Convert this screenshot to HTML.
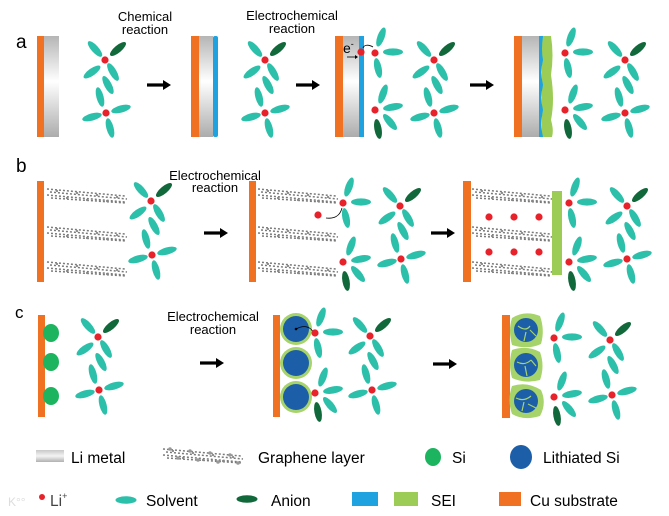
<!DOCTYPE html>
<html><head><meta charset="utf-8"><style>
html,body{margin:0;padding:0;background:#fff;}
svg{display:block;font-family:"Liberation Sans",Arial,sans-serif;}
</style></head><body>
<svg width="669" height="516" viewBox="0 0 669 516" xmlns="http://www.w3.org/2000/svg">
<defs>
<linearGradient id="li" x1="0" y1="0" x2="0" y2="1">
<stop offset="0" stop-color="#b5b5b5"/><stop offset="0.45" stop-color="#ffffff"/><stop offset="1" stop-color="#acacac"/>
</linearGradient>
<linearGradient id="lil" x1="0" y1="0" x2="0" y2="1">
<stop offset="0" stop-color="#c8c8c8"/><stop offset="0.5" stop-color="#f4f4f4"/><stop offset="1" stop-color="#b0b0b0"/>
</linearGradient>
<g id="A" fill="#2cbfa9">
<ellipse rx="10" ry="3.6" transform="translate(-10,-11) rotate(48)"/>
<ellipse rx="10" ry="3.6" fill="#11683a" transform="translate(13,-11) rotate(-40)"/>
<ellipse rx="10" ry="3.6" transform="translate(-13,12) rotate(-35)"/>
<ellipse rx="10" ry="3.6" transform="translate(8,12) rotate(60)"/>
<ellipse rx="10" ry="3.6" transform="translate(3,25) rotate(62)"/>
<circle r="3.6" fill="#e8222a"/>
</g>
<g id="B" fill="#2cbfa9">
<ellipse rx="10" ry="3.6" transform="translate(-6,-16) rotate(75)"/>
<ellipse rx="10" ry="3.6" transform="translate(15,-4) rotate(-15)"/>
<ellipse rx="10" ry="3.6" transform="translate(-14,4) rotate(-15)"/>
<ellipse rx="10" ry="3.6" transform="translate(4,15) rotate(75)"/>
<circle r="3.6" fill="#e8222a"/>
</g>
<g id="C" fill="#2cbfa9">
<ellipse rx="10" ry="3.6" transform="translate(6,-16) rotate(-70)"/>
<ellipse rx="10" ry="3.6" transform="translate(18,-1)"/>
<ellipse rx="10" ry="3.6" transform="translate(3,15) rotate(78)"/>
<circle r="3.6" fill="#e8222a"/>
</g>
<g id="D" fill="#2cbfa9">
<ellipse rx="10" ry="3.6" transform="translate(8,-16) rotate(-70)"/>
<ellipse rx="10" ry="3.6" transform="translate(18,-3) rotate(-10)"/>
<ellipse rx="10" ry="3.6" transform="translate(15,12) rotate(50)"/>
<ellipse rx="10" ry="3.6" fill="#11683a" transform="translate(3,19) rotate(80)"/>
<circle r="3.6" fill="#e8222a"/>
</g>
<g id="G">
<g stroke="#7a7a7a" stroke-width="1.5" fill="none" stroke-dasharray="2 2">
<path d="M0,0 L78,7"/><path d="M3,3 L80,10"/><path d="M0,6 L78,13"/><path d="M4,9 L79,14"/>
</g>
<g fill="#888"><circle cx="10" cy="2" r="1.1"/><circle cx="30" cy="4" r="1.1"/><circle cx="50" cy="6" r="1.1"/><circle cx="70" cy="8" r="1.1"/>
<circle cx="20" cy="9" r="1.1"/><circle cx="40" cy="11" r="1.1"/><circle cx="60" cy="12" r="1.1"/></g>
</g>
<g id="AR"><rect x="0" y="-1.6" width="18" height="3.2" fill="#000"/><path d="M16,-5 L24,0 L16,5 Z" fill="#000"/></g>
</defs>

<text x="16" y="48" font-size="19">a</text>
<text x="145" y="21" font-size="13" text-anchor="middle">Chemical</text>
<text x="145" y="34" font-size="13" text-anchor="middle">reaction</text>
<text x="292" y="20" font-size="13" text-anchor="middle">Electrochemical</text>
<text x="292" y="33" font-size="13" text-anchor="middle">reaction</text>

<rect x="37" y="36" width="7" height="101" fill="#f07122"/>
<rect x="44" y="36" width="15" height="101" fill="url(#li)"/>
<use href="#A" x="105" y="60"/><use href="#B" x="106" y="113"/>
<use href="#AR" x="147" y="85"/>

<rect x="191" y="36" width="8" height="101" fill="#f07122"/>
<rect x="199" y="36" width="14" height="101" fill="url(#li)"/>
<rect x="213" y="36" width="5" height="101" rx="2" fill="#1ea2e0"/>
<use href="#A" x="265" y="60"/><use href="#B" x="265" y="113"/>
<use href="#AR" x="296" y="85"/>

<rect x="335" y="36" width="8" height="101" fill="#f07122"/>
<rect x="343" y="36" width="16" height="101" fill="url(#li)"/>
<rect x="359" y="36" width="5" height="101" fill="#1ea2e0"/>
<text x="343" y="53" font-size="14">e<tspan font-size="9" dy="-6">-</tspan></text>
<path d="M347,57 L357,57" stroke="#000" stroke-width="0.8"/><path d="M355,55 L358,57 L355,59Z"/>
<circle cx="361" cy="52" r="3.6" fill="#e8222a"/>
<path d="M373,47 C368,44 364,45 363,48" stroke="#000" stroke-width="0.8" fill="none"/>
<use href="#C" x="375" y="53"/><use href="#A" x="434" y="60"/>
<use href="#D" x="375" y="110"/><use href="#B" x="434" y="113"/>
<use href="#AR" x="470" y="85"/>

<rect x="514" y="36" width="8" height="101" fill="#f07122"/>
<rect x="522" y="36" width="17" height="101" fill="url(#li)"/>
<path d="M542,36 L551,36 Q554,55 551,75 Q555,100 551,120 Q554,130 552,137 L542,137Z" fill="#9ccc55"/>
<path d="M539,36 L543,36 Q541,50 543,60 Q540,72 543,85 Q540,98 543,110 Q540,125 543,137 L539,137Z" fill="#1ea2e0"/>
<use href="#C" x="565" y="53"/><use href="#A" x="625" y="60"/>
<use href="#D" x="565" y="110"/><use href="#B" x="625" y="113"/>

<text x="16" y="172" font-size="19">b</text>
<text x="215" y="180" font-size="13" text-anchor="middle">Electrochemical</text>
<text x="215" y="192" font-size="13" text-anchor="middle">reaction</text>
<rect x="37" y="181" width="7" height="101" fill="#f07122"/>
<use href="#G" x="47" y="189"/><use href="#G" x="47" y="227"/><use href="#G" x="47" y="262"/>
<use href="#A" x="151" y="201"/><use href="#B" x="152" y="255"/>
<use href="#AR" x="204" y="233"/>

<rect x="249" y="181" width="7" height="101" fill="#f07122"/>
<use href="#G" x="258" y="189"/><use href="#G" x="258" y="227"/><use href="#G" x="258" y="262"/>
<circle cx="318" cy="215" r="3.6" fill="#e8222a"/>
<path d="M342,208 C340,216 334,219 326,218" stroke="#000" stroke-width="0.8" fill="none"/>
<use href="#C" x="343" y="203"/><use href="#A" x="400" y="206"/>
<use href="#D" x="343" y="262"/><use href="#B" x="401" y="259"/>
<use href="#AR" x="431" y="233"/>

<rect x="463" y="181" width="8" height="101" fill="#f07122"/>
<use href="#G" x="472" y="189"/><use href="#G" x="472" y="227"/><use href="#G" x="472" y="262"/>
<g fill="#e8222a"><circle cx="489" cy="217" r="3.6"/><circle cx="514" cy="217" r="3.6"/><circle cx="539" cy="217" r="3.6"/>
<circle cx="489" cy="252" r="3.6"/><circle cx="514" cy="252" r="3.6"/><circle cx="539" cy="252" r="3.6"/></g>
<rect x="552" y="191" width="10" height="84" fill="#9ccc55"/>
<use href="#C" x="569" y="203"/><use href="#A" x="627" y="206"/>
<use href="#D" x="569" y="262"/><use href="#B" x="627" y="259"/>

<text x="15" y="318" font-size="17">c</text>
<text x="213" y="321" font-size="13" text-anchor="middle">Electrochemical</text>
<text x="213" y="334" font-size="13" text-anchor="middle">reaction</text>
<rect x="38" y="315" width="7" height="102" fill="#f07122"/>
<g fill="#1db45f"><ellipse cx="51" cy="333" rx="8" ry="9"/><ellipse cx="51" cy="362" rx="8" ry="9"/><ellipse cx="51" cy="396" rx="8" ry="9"/></g>
<use href="#A" x="98" y="337"/><use href="#B" x="99" y="390"/>
<use href="#AR" x="200" y="363"/>

<rect x="273" y="315" width="7" height="102" fill="#f07122"/>
<g fill="#a6d36a"><circle cx="296" cy="329" r="16"/><circle cx="296" cy="363" r="16"/><circle cx="296" cy="397" r="16"/></g>
<g fill="#1c5ea8"><circle cx="296" cy="329" r="13"/><circle cx="296" cy="363" r="13"/><circle cx="296" cy="397" r="13"/></g>
<circle cx="296" cy="329" r="1.3" fill="#000"/>
<path d="M296,329 C303,325 310,326 313,332" stroke="#000" stroke-width="0.8" fill="none"/>
<use href="#C" x="315" y="333"/><use href="#A" x="370" y="336"/>
<use href="#D" x="315" y="393"/><use href="#B" x="372" y="390"/>
<use href="#AR" x="433" y="364"/>

<rect x="502" y="315" width="8" height="103" fill="#f07122"/>
<g fill="#a6d36a">
<path d="M512,318 Q525,310 540,316 Q545,330 541,344 Q528,350 512,345 Q508,330 512,318Z"/>
<path d="M512,350 Q527,345 540,352 Q545,366 540,380 Q525,384 512,378 Q508,364 512,350Z"/>
<path d="M512,386 Q527,381 541,390 Q547,403 540,416 Q524,421 512,414 Q507,400 512,386Z"/>
</g>
<g fill="#1c5ea8"><circle cx="526" cy="330" r="12"/><circle cx="526" cy="365" r="12"/><circle cx="526" cy="401" r="12"/></g>
<g stroke="#a6d36a" stroke-width="1.2" fill="none">
<path d="M518,326 Q526,332 530,326 M526,332 L524,341 M530,330 L536,336"/>
<path d="M517,362 Q525,366 531,360 M525,366 L527,376 M531,360 L536,366"/>
<path d="M516,398 Q524,402 531,396 M524,402 L522,411 M528,404 L536,408"/>
</g>
<use href="#C" x="554" y="338"/><use href="#A" x="610" y="340"/>
<use href="#D" x="554" y="397"/><use href="#B" x="612" y="395"/>

<rect x="36" y="450" width="28" height="12" fill="url(#lil)"/>
<text x="71" y="463" font-size="15.5">Li metal</text>
<g transform="translate(163,449)"><use href="#G" x="0" y="0"/></g>
<g fill="#999"><circle cx="170" cy="449" r="1.8"/><circle cx="190" cy="451" r="1.8"/><circle cx="210" cy="453" r="1.8"/><circle cx="230" cy="455" r="1.8"/><circle cx="178" cy="458" r="1.8"/><circle cx="198" cy="460" r="1.8"/><circle cx="218" cy="462" r="1.8"/><circle cx="238" cy="463" r="1.8"/></g>
<text x="258" y="463" font-size="15.5">Graphene layer</text>
<ellipse cx="433" cy="457" rx="8" ry="9" fill="#1db45f"/>
<text x="452" y="463" font-size="15.5">Si</text>
<ellipse cx="521" cy="457" rx="11" ry="12" fill="#1c5ea8"/>
<text x="543" y="463" font-size="15.5">Lithiated Si</text>

<circle cx="42" cy="497" r="3" fill="#e8222a"/>
<text x="50" y="506" font-size="15.5" fill="#444">Li<tspan font-size="9" dy="-7">+</tspan></text>
<text x="8" y="506" font-size="12" fill="#ddd">K°°</text>
<ellipse cx="126" cy="500" rx="10.5" ry="3.8" fill="#2cbfa9"/>
<text x="146" y="506" font-size="15.5">Solvent</text>
<ellipse cx="247" cy="499" rx="10.5" ry="3.8" fill="#11683a"/>
<text x="271" y="506" font-size="15.5">Anion</text>
<rect x="352" y="492" width="26" height="14" fill="#1ea2e0"/>
<rect x="394" y="492" width="24" height="14" fill="#9ccc55"/>
<text x="431" y="506" font-size="15.5">SEI</text>
<rect x="499" y="492" width="22" height="14" fill="#f07122"/>
<text x="530" y="506" font-size="15.5">Cu substrate</text>
</svg>
</body></html>
